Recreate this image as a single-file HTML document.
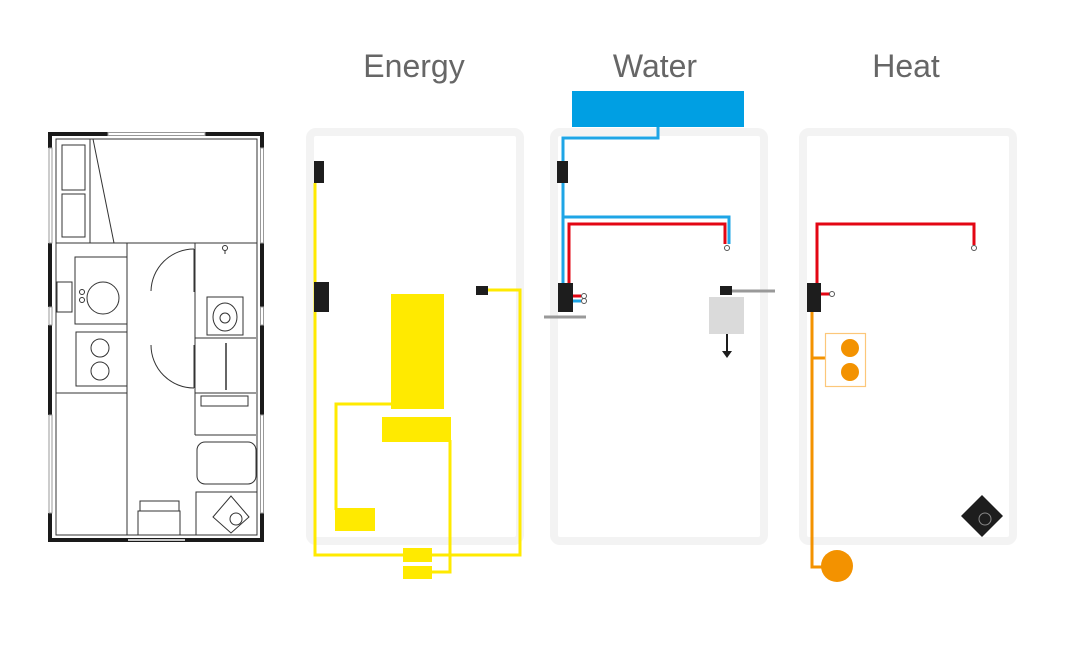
<!DOCTYPE html>
<html><head><meta charset="utf-8"><style>
html,body{margin:0;padding:0;background:#fff;}
svg{display:block;}
text{font-family:"Liberation Sans",sans-serif;fill:#666;font-size:32px;}
</style></head><body>
<svg width="1080" height="648" viewBox="0 0 1080 648" xmlns="http://www.w3.org/2000/svg">
<!-- titles -->
<text x="414" y="77" text-anchor="middle">Energy</text>
<text x="655" y="77" text-anchor="middle">Water</text>
<text x="906" y="77" text-anchor="middle">Heat</text>

<!-- FLOOR PLAN -->
<g fill="none" stroke="#333" stroke-width="1">
  <!-- walls -->
  <rect x="50" y="134" width="212" height="406" stroke="#1a1a1a" stroke-width="4"/>
  <rect x="56" y="139" width="201" height="396"/>
  <!-- windows top -->
  <line x1="108" y1="134" x2="205" y2="134" stroke="#fff" stroke-width="5"/>
  <rect x="108" y="132.5" width="97" height="3" stroke="#999"/>
  <!-- side windows -->
  <g stroke="#fff" stroke-width="5">
    <line x1="50" y1="148" x2="50" y2="243"/><line x1="50" y1="307" x2="50" y2="325"/><line x1="50" y1="415" x2="50" y2="513"/>
    <line x1="262" y1="148" x2="262" y2="243"/><line x1="262" y1="307" x2="262" y2="325"/><line x1="262" y1="415" x2="262" y2="513"/>
    <line x1="128" y1="540" x2="185" y2="540" stroke-width="1.5"/>
  </g>
  <g stroke="#999">
    <rect x="49" y="148" width="3" height="95"/><rect x="49" y="307" width="3" height="18"/><rect x="49" y="415" width="3" height="98"/>
    <rect x="260.5" y="148" width="3" height="95"/><rect x="260.5" y="307" width="3" height="18"/><rect x="260.5" y="415" width="3" height="98"/>
  </g>
  <!-- interior -->
  <line x1="56" y1="243" x2="257" y2="243"/>
  <rect x="62" y="145" width="23" height="45"/>
  <rect x="62" y="194" width="23" height="43"/>
  <line x1="90" y1="139" x2="90" y2="243"/>
  <line x1="93" y1="139" x2="114" y2="243"/>
  <line x1="127" y1="243" x2="127" y2="535"/>
  <line x1="56" y1="393" x2="127" y2="393"/>
  <rect x="75" y="257" width="52" height="67"/>
  <circle cx="103" cy="298" r="16"/>
  <circle cx="82" cy="292" r="2.5"/><circle cx="82" cy="300" r="2.5"/>
  <rect x="57" y="282" width="15" height="30"/>
  <rect x="76" y="332" width="51" height="54"/>
  <circle cx="100" cy="348" r="9"/><circle cx="100" cy="371" r="9"/>
  <path d="M194 249 A43 43 0 0 0 151 291"/>
  <line x1="194" y1="249" x2="194" y2="292"/>
  <path d="M151 345 A43 43 0 0 0 194 388"/>
  <line x1="194" y1="345" x2="194" y2="388"/>
  <line x1="195" y1="243" x2="195" y2="435"/>
  <line x1="195" y1="338" x2="256" y2="338"/>
  <line x1="195" y1="393" x2="256" y2="393"/>
  <line x1="195" y1="435" x2="256" y2="435"/>
  <rect x="207" y="297" width="36" height="38"/>
  <ellipse cx="225" cy="317" rx="12" ry="14"/>
  <circle cx="225" cy="318" r="5"/>
  <circle cx="225" cy="248" r="2.5"/><line x1="225" y1="250" x2="225" y2="254"/>
  <line x1="226" y1="343" x2="226" y2="390" stroke-width="1.5"/>
  <rect x="201" y="396" width="47" height="10"/>
  <rect x="197" y="442" width="59" height="42" rx="8"/>
  <rect x="196" y="492" width="61" height="43"/>
  <polygon points="213,517 231,496 249,517 231,533"/>
  <circle cx="236" cy="519" r="6"/>
  <rect x="140" y="501" width="39" height="10"/>
  <rect x="138" y="511" width="42" height="24"/>
</g>

<!-- panels -->
<g fill="none" stroke="#f3f3f3" stroke-width="8">
  <rect x="310" y="132" width="210" height="409" rx="6"/>
  <rect x="554" y="132" width="210" height="409" rx="6"/>
  <rect x="803" y="132" width="210" height="409" rx="6"/>
</g>

<!-- ENERGY -->
<g fill="none" stroke="#ffea00" stroke-width="3">
  <polyline points="315,183 315,555 520,555 520,290 488,290"/>
  <polyline points="391,404 336,404 336,510"/>
  <polyline points="450,440 450,572 432,572"/>
</g>
<g fill="#ffea00">
  <rect x="391" y="294" width="53" height="115"/>
  <rect x="382" y="417" width="69" height="25"/>
  <rect x="335" y="508" width="40" height="23"/>
  <rect x="403" y="548" width="29" height="14"/>
  <rect x="403" y="566" width="29" height="13"/>
</g>
<g fill="#1d1d1d">
  <rect x="314" y="161" width="10" height="22"/>
  <rect x="314" y="282" width="15" height="30"/>
  <rect x="476" y="286" width="12" height="9"/>
</g>

<!-- WATER -->
<rect x="572" y="91" width="172" height="36" fill="#009fe3"/>
<g fill="none" stroke-width="3">
  <polyline points="658,127 658,138 563,138 563,283" stroke="#1ea5e6"/>
  <polyline points="563,217 729,217 729,244" stroke="#1ea5e6"/>
  <polyline points="569,283 569,224 725,224 725,244" stroke="#e30613"/>
  <line x1="573" y1="296" x2="581" y2="296" stroke="#e30613"/>
  <line x1="573" y1="301" x2="581" y2="301" stroke="#1ea5e6"/>
  <line x1="544" y1="317" x2="586" y2="317" stroke="#999"/>
  <line x1="732" y1="291" x2="775" y2="291" stroke="#999"/>
  <line x1="727" y1="334" x2="727" y2="352" stroke="#1d1d1d" stroke-width="2"/>
</g>
<g fill="#fff" stroke="#555" stroke-width="1">
  <circle cx="584" cy="296" r="2.5"/><circle cx="584" cy="301" r="2.5"/>
  <circle cx="727" cy="248" r="2.5"/>
</g>
<polygon points="722,351 732,351 727,358" fill="#1d1d1d"/>
<g fill="#1d1d1d">
  <rect x="557" y="161" width="11" height="22"/>
  <rect x="558" y="283" width="15" height="29"/>
  <rect x="720" y="286" width="12" height="9"/>
</g>
<rect x="709" y="297" width="35" height="37" fill="#dadada"/>

<!-- HEAT -->
<g fill="none" stroke-width="3">
  <polyline points="817,283 817,224 974,224 974,245" stroke="#e30613"/>
  <line x1="821" y1="294" x2="830" y2="294" stroke="#e30613"/>
  <polyline points="812,312 812,567 822,567" stroke="#f39200"/>
  <line x1="812" y1="358" x2="825" y2="358" stroke="#f39200"/>
</g>
<rect x="825.5" y="333.5" width="40" height="53" fill="none" stroke="#fcc77a" stroke-width="1.2"/>
<g fill="#f39200">
  <circle cx="850" cy="348" r="9"/><circle cx="850" cy="372" r="9"/>
  <circle cx="837" cy="566" r="16"/>
</g>
<g fill="#fff" stroke="#555" stroke-width="1">
  <circle cx="832" cy="294" r="2.5"/><circle cx="974" cy="248" r="2.5"/>
</g>
<rect x="807" y="283" width="14" height="29" fill="#1d1d1d"/>
<polygon points="982,495 1003,516 982,537 961,516" fill="#1d1d1d"/>
<circle cx="985" cy="519" r="6" fill="none" stroke="#888" stroke-width="1"/>
</svg>
</body></html>
